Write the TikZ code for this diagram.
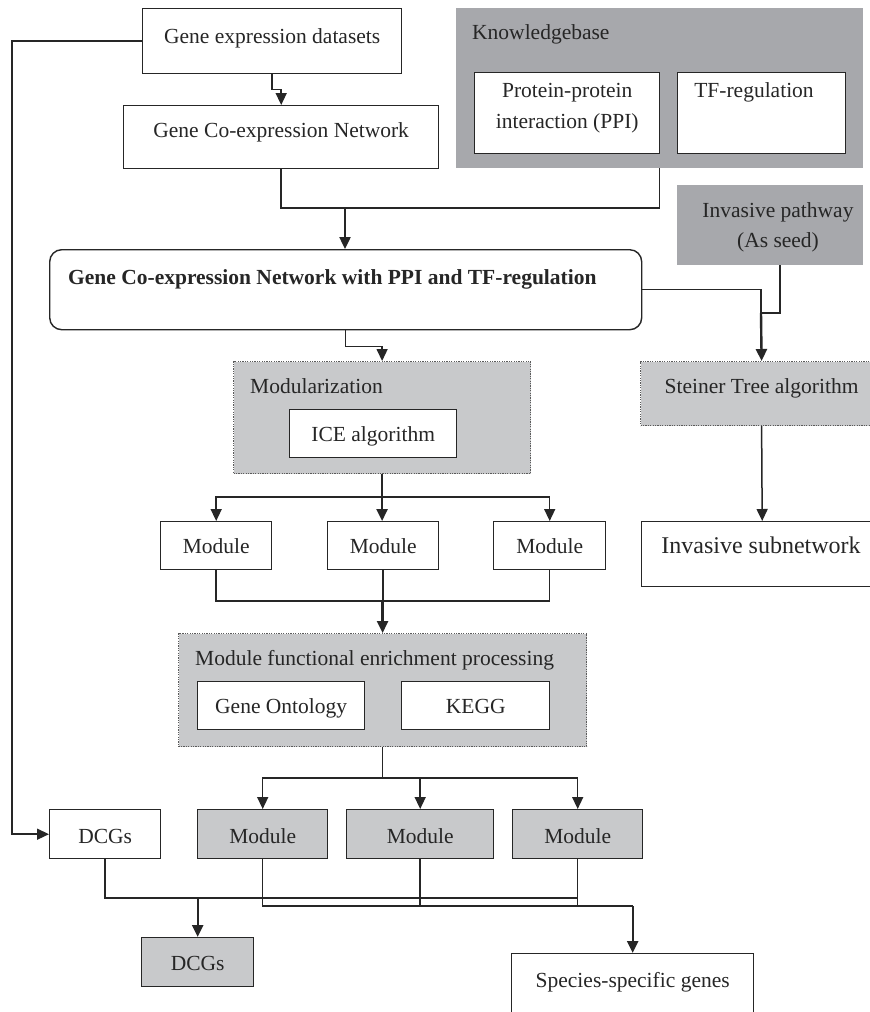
\documentclass[tikz,border=0pt]{standalone}
\usepackage{fontspec}
\setmainfont{Liberation Serif}
\usetikzlibrary{arrows.meta,calc}
\definecolor{dgray}{RGB}{167,168,172}
\definecolor{lgray}{RGB}{200,201,203}
\definecolor{dotc}{RGB}{90,90,90}
\begin{document}
\begin{tikzpicture}[x=1pt,y=-1pt,
  box/.style={draw=black!85, line width=1.4pt, fill=white, inner sep=0pt, anchor=north west},
  gbox/.style={box, fill=lgray},
  kbox/.style={fill=dgray, inner sep=0pt, anchor=north west},
  dbox/.style={draw=dotc, line width=1.2pt, dash pattern=on 1.2pt off 1.2pt, fill=lgray, inner sep=0pt, anchor=north west},
  txt/.style={font=\fontsize{21.5}{25}\selectfont, text=black!85, inner sep=0pt, anchor=base},
  ttl/.style={txt, anchor=base west},
  ln/.style={line width=1.5pt, draw=black!85},
  arr/.style={ln, -{Triangle[length=12pt,width=11pt]}},
  arrT/.style={line width=2.4pt, draw=black!85, -{Triangle[length=12pt,width=11pt]}}
]
\useasboundingbox (0,0) rectangle (870,1012);
\clip (0,0) rectangle (870,1012);
\fill[white] (0,0) rectangle (870,1012);

% top
\node[box, minimum width=259pt, minimum height=65pt] (ged) at (142,8) {};
\node[txt] (gedt) at (ged.north |- 0,43) {Gene expression datasets};
\node[box, minimum width=315pt, minimum height=63pt] (gcn) at (123,105) {};
\node[txt] (gcnt) at (gcn.north |- 0,137) {Gene Co-expression Network};

% knowledgebase
\node[kbox, minimum width=407pt, minimum height=160pt] (kb) at (456,8) {};
\node[ttl] (kbt) at (472,39) {Knowledgebase};
\node[box, minimum width=185pt, minimum height=81pt] (ppi) at (474,72) {};
\node[txt, font=\fontsize{21.5}{31}\selectfont] (ppit) at (ppi.north |- 0,97) {\begin{tabular}[t]{@{}c@{}}Protein-protein\\interaction (PPI)\end{tabular}};
\node[box, minimum width=168pt, minimum height=81pt] (tf) at (677,72) {};
\node[txt] (tft) at (754,97) {TF-regulation};

% invasive pathway
\node[kbox, minimum width=186pt, minimum height=80pt] (inv) at (677,185) {};
\node[txt, font=\fontsize{21.5}{30}\selectfont] (invt) at (778,217) {\begin{tabular}[t]{@{}c@{}}Invasive pathway\\(As seed)\end{tabular}};

% combined network
\node[box, rounded corners=12pt, minimum width=592pt, minimum height=80pt] (gcnp) at (49,249) {};
\node[ttl, font=\fontsize{21.5}{25}\selectfont\bfseries] (gcnpt) at (68,284) {Gene Co-expression Network with PPI and TF-regulation};

% steiner
\node[dbox, minimum width=242pt, minimum height=64pt] (st) at (640,361) {};
\node[txt] (stt) at (st.north |- 0,393) {Steiner Tree algorithm};
\node[box, minimum width=241pt, minimum height=65pt] (isub) at (641,521) {};
\node[txt, font=\fontsize{24}{28}\selectfont] (isubt) at (761,553) {Invasive subnetwork};

% modularization
\node[dbox, minimum width=297pt, minimum height=112pt] (mod) at (233,361) {};
\node[ttl] (modt) at (250,393) {Modularization};
\node[box, minimum width=167pt, minimum height=48pt] (ice) at (289,409) {};
\node[txt] (icet) at (ice.north |- 0,441) {ICE algorithm};

% modules
\node[box, minimum width=111pt, minimum height=48pt] (m1) at (160,521) {};
\node[box, minimum width=111pt, minimum height=48pt] (m2) at (327,521) {};
\node[box, minimum width=112pt, minimum height=48pt] (m3) at (493,521) {};
\node[txt] (m1t) at (m1.north |- 0,553) {Module};
\node[txt] (m2t) at (m2.north |- 0,553) {Module};
\node[txt] (m3t) at (m3.north |- 0,553) {Module};

% enrichment
\node[dbox, minimum width=408pt, minimum height=113pt] (mfep) at (178,633) {};
\node[ttl] (mfept) at (195,665) {Module functional enrichment processing};
\node[box, minimum width=167pt, minimum height=48pt] (go) at (197,681) {};
\node[txt] (got) at (go.north |- 0,713) {Gene Ontology};
\node[box, minimum width=148pt, minimum height=48pt] (kegg) at (401,681) {};
\node[txt] (keggt) at (kegg.north |- 0,713) {KEGG};

% bottom row
\node[box, minimum width=111pt, minimum height=49pt] (d1) at (49,809) {};
\node[txt] (d1t) at (d1.north |- 0,843) {DCGs};
\node[gbox, minimum width=130pt, minimum height=49pt] (g1) at (197,809) {};
\node[gbox, minimum width=147pt, minimum height=49pt] (g2) at (346,809) {};
\node[gbox, minimum width=130pt, minimum height=49pt] (g3) at (512,809) {};
\node[txt] (g1t) at (g1.north |- 0,843) {Module};
\node[txt] (g2t) at (g2.north |- 0,843) {Module};
\node[txt] (g3t) at (g3.north |- 0,843) {Module};

\node[gbox, minimum width=112pt, minimum height=49pt] (d2) at (141,937) {};
\node[txt] (d2t) at (d2.north |- 0,970) {DCGs};
\node[box, minimum width=242pt, minimum height=90pt] (sp) at (511,953) {};
\node[txt] (spt) at (sp.north |- 0,987) {Species-specific genes};

% connectors
\draw[arr] (ged.south) -- ++(0,15) -| (gcn.north);
\draw[arr] (ged.west) -- ++(-130,0) |- (d1.west);

\coordinate (kbj) at (345,208);
\draw[ln] (gcn.south) |- (kbj) -| (kb.south);
\draw[arrT] (kbj) -- (kbj |- gcnp.north);

\coordinate (sj) at (761,313);
\draw[ln] (gcnp.east) -| (sj);
\draw[ln] ($(inv.south)+(10,0)$) |- (sj);
\draw[arrT] (sj) -- (st.north);
\draw[arr] (st.south) -- (isub.north);

\draw[arr] (gcnp.south) -- ++(0,16) -| (mod.north);

\coordinate (bj) at (mod.south |- 0,497);
\draw[arrT] (mod.south) -- (mod.south |- m2.north);
\draw[arr] (bj) -| (m1.north);
\draw[arr] (bj) -| (m3.north);

\coordinate (cj) at (mfep.north |- 0,601);
\draw[ln] (m1.south) |- (cj) -| (m3.south);
\draw[ln] (m2.south) -- (m2.south |- cj);
\draw[arrT] (cj) -- (mfep.north);

\coordinate (dj) at (mfep.south |- 0,778);
\draw[ln] (mfep.south) -- (dj);
\draw[arr] (dj) -| (g1.north);
\draw[arr] (dj) -| (g3.north);
\draw[arr] (g2.north |- dj) -- (g2.north);

\coordinate (uj) at (d2.north |- 0,898);
\draw[ln] (d1.south) |- (uj) -| (g3.south);
\draw[arrT] (uj) -- (d2.north);

\coordinate (lj) at (sp.north |- 0,906);
\draw[ln] (g1.south) |- (lj);
\draw[ln] (g2.south) -- (g2.south |- lj);
\draw[ln] (g3.south) -- (g3.south |- lj);
\draw[arrT] (lj) -- (sp.north);
\end{tikzpicture}
\end{document}
